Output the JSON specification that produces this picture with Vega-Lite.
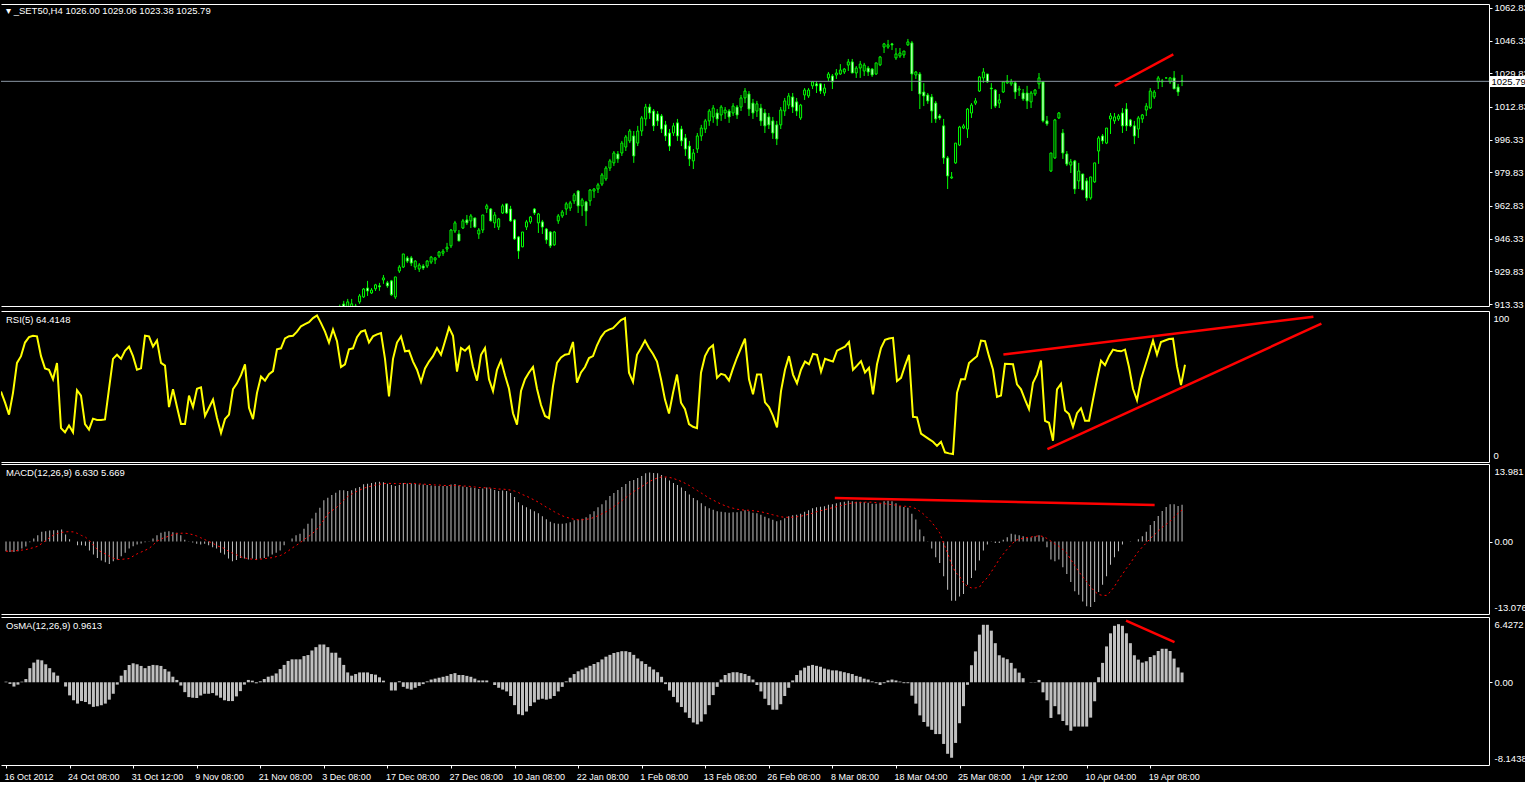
{
"$schema": "https://vega.github.io/schema/vega-lite/v6.json",
"background": "#000000",
"padding": {"left": 0, "top": 2, "right": 0, "bottom": 0},
"spacing": 0,
"config": {
  "font": "Liberation Sans",
  "view": {"stroke": "#ffffff", "strokeWidth": 1},
  "axis": {"grid": false, "domain": false, "labelColor": "#ffffff", "labelFont": "Liberation Sans", "labelFontSize": 9.5, "tickColor": "#ffffff", "tickSize": 3, "labelPadding": 2, "labelOverlap": false},
  "title": {"color": "#ffffff", "font": "Liberation Sans", "fontSize": 9.5, "fontWeight": "normal", "anchor": "start", "frame": "group", "baseline": "middle", "offset": -13}
},
"resolve": {"scale": {"x": "independent", "y": "independent"}},
"datasets": {
"candles": [
{"i":84,"o":909.3,"h":913.0,"l":907.0,"c":912.0},
{"i":85,"o":913.3,"h":914.9,"l":908.8,"c":910.8},
{"i":86,"o":911.8,"h":915.9,"l":909.8,"c":914.4},
{"i":87,"o":910.3,"h":915.9,"l":908.8,"c":913.4},
{"i":88,"o":910.8,"h":913.4,"l":909.8,"c":912.3},
{"i":89,"o":914.4,"h":918.4,"l":913.4,"c":917.4},
{"i":90,"o":916.9,"h":921.4,"l":916.4,"c":920.9},
{"i":91,"o":921.4,"h":925.0,"l":917.4,"c":919.9},
{"i":92,"o":918.9,"h":921.4,"l":918.4,"c":920.4},
{"i":93,"o":921.0,"h":923.5,"l":919.9,"c":923.0},
{"i":94,"o":922.5,"h":924.0,"l":920.0,"c":922.0},
{"i":95,"o":925.5,"h":928.0,"l":923.5,"c":926.5},
{"i":96,"o":924.0,"h":925.0,"l":921.5,"c":922.5},
{"i":97,"o":925.0,"h":925.5,"l":917.4,"c":918.0},
{"i":98,"o":916.9,"h":927.0,"l":915.9,"c":927.0},
{"i":99,"o":930.0,"h":933.0,"l":929.0,"c":932.0},
{"i":100,"o":932.0,"h":938.6,"l":931.5,"c":938.6},
{"i":101,"o":936.6,"h":937.6,"l":934.0,"c":935.0},
{"i":102,"o":936.6,"h":937.6,"l":932.5,"c":934.0},
{"i":103,"o":932.0,"h":935.5,"l":930.5,"c":935.0},
{"i":104,"o":931.0,"h":934.0,"l":929.5,"c":933.0},
{"i":105,"o":932.5,"h":933.5,"l":930.5,"c":931.5},
{"i":106,"o":932.5,"h":935.5,"l":931.5,"c":935.0},
{"i":107,"o":934.5,"h":937.6,"l":933.5,"c":937.0},
{"i":108,"o":935.6,"h":937.0,"l":933.5,"c":936.6},
{"i":109,"o":937.6,"h":940.1,"l":936.6,"c":939.6},
{"i":110,"o":939.0,"h":941.1,"l":937.6,"c":940.0},
{"i":111,"o":941.1,"h":944.2,"l":939.6,"c":942.0},
{"i":112,"o":942.7,"h":951.2,"l":941.6,"c":950.7},
{"i":113,"o":950.2,"h":955.3,"l":949.2,"c":954.3},
{"i":114,"o":948.7,"h":950.7,"l":945.0,"c":945.2},
{"i":115,"o":951.7,"h":956.3,"l":951.2,"c":955.3},
{"i":116,"o":955.8,"h":958.3,"l":953.2,"c":954.3},
{"i":117,"o":955.3,"h":958.8,"l":951.7,"c":957.8},
{"i":118,"o":956.8,"h":956.8,"l":951.7,"c":952.2},
{"i":119,"o":948.7,"h":951.7,"l":946.2,"c":950.7},
{"i":120,"o":950.7,"h":958.3,"l":949.2,"c":958.3},
{"i":121,"o":961.4,"h":963.9,"l":959.3,"c":962.9},
{"i":122,"o":961.3,"h":961.8,"l":955.0,"c":955.3},
{"i":123,"o":954.3,"h":959.8,"l":951.7,"c":958.3},
{"i":124,"o":952.2,"h":956.8,"l":950.7,"c":956.3},
{"i":125,"o":959.3,"h":963.9,"l":958.8,"c":962.9},
{"i":126,"o":963.9,"h":963.9,"l":958.8,"c":959.3},
{"i":127,"o":961.3,"h":962.9,"l":954.8,"c":955.3},
{"i":128,"o":955.8,"h":956.3,"l":945.7,"c":946.2},
{"i":129,"o":947.2,"h":947.7,"l":936.1,"c":940.1},
{"i":130,"o":942.2,"h":949.7,"l":942.0,"c":949.7},
{"i":131,"o":952.2,"h":955.8,"l":950.7,"c":954.8},
{"i":132,"o":954.8,"h":957.8,"l":953.8,"c":957.3},
{"i":133,"o":961.3,"h":961.8,"l":958.3,"c":959.3},
{"i":134,"o":954.3,"h":959.3,"l":949.2,"c":958.8},
{"i":135,"o":954.8,"h":955.8,"l":948.7,"c":952.2},
{"i":136,"o":951.2,"h":951.7,"l":943.7,"c":945.7},
{"i":137,"o":949.7,"h":950.2,"l":941.6,"c":942.7},
{"i":138,"o":943.2,"h":950.2,"l":942.7,"c":949.7},
{"i":139,"o":955.3,"h":958.8,"l":953.8,"c":957.8},
{"i":140,"o":957.8,"h":960.8,"l":956.8,"c":959.8},
{"i":141,"o":961.3,"h":964.9,"l":958.3,"c":963.9},
{"i":142,"o":961.8,"h":965.4,"l":960.3,"c":964.4},
{"i":143,"o":965.4,"h":969.4,"l":963.9,"c":968.4},
{"i":144,"o":970.4,"h":970.9,"l":959.3,"c":962.9},
{"i":145,"o":962.9,"h":966.9,"l":957.8,"c":965.9},
{"i":146,"o":964.9,"h":965.4,"l":952.7,"c":960.3},
{"i":147,"o":965.4,"h":971.4,"l":962.9,"c":970.9},
{"i":148,"o":970.4,"h":971.9,"l":966.9,"c":971.4},
{"i":149,"o":971.4,"h":974.5,"l":969.4,"c":973.5},
{"i":150,"o":973.9,"h":979.5,"l":972.9,"c":978.5},
{"i":151,"o":976.5,"h":983.0,"l":975.5,"c":982.0},
{"i":152,"o":982.0,"h":986.6,"l":980.5,"c":985.6},
{"i":153,"o":984.6,"h":990.6,"l":983.0,"c":989.6},
{"i":154,"o":989.1,"h":990.6,"l":984.6,"c":986.6},
{"i":155,"o":989.6,"h":995.7,"l":988.1,"c":994.6},
{"i":156,"o":992.6,"h":998.7,"l":990.6,"c":997.7},
{"i":157,"o":995.7,"h":1001.7,"l":994.6,"c":1000.7},
{"i":158,"o":998.2,"h":1000.7,"l":984.6,"c":988.1},
{"i":159,"o":994.6,"h":1003.3,"l":993.1,"c":1000.7},
{"i":160,"o":1000.7,"h":1008.3,"l":998.2,"c":1007.3},
{"i":161,"o":1006.8,"h":1014.4,"l":1003.3,"c":1012.8},
{"i":162,"o":1012.8,"h":1014.4,"l":1006.8,"c":1009.8},
{"i":163,"o":1010.8,"h":1011.8,"l":1000.7,"c":1003.3},
{"i":164,"o":1009.3,"h":1010.8,"l":1003.3,"c":1005.8},
{"i":165,"o":1008.3,"h":1009.3,"l":999.7,"c":1001.7},
{"i":166,"o":1003.8,"h":1005.8,"l":995.7,"c":998.2},
{"i":167,"o":999.7,"h":1001.7,"l":990.6,"c":993.1},
{"i":168,"o":999.7,"h":1004.8,"l":998.2,"c":1003.3},
{"i":169,"o":1004.8,"h":1006.8,"l":995.7,"c":998.2},
{"i":170,"o":1001.7,"h":1003.3,"l":993.1,"c":995.7},
{"i":171,"o":997.2,"h":999.2,"l":988.1,"c":991.6},
{"i":172,"o":993.1,"h":995.7,"l":983.0,"c":986.6},
{"i":173,"o":985.6,"h":991.6,"l":981.5,"c":989.6},
{"i":174,"o":991.6,"h":999.7,"l":989.6,"c":998.2},
{"i":175,"o":998.2,"h":1003.8,"l":995.7,"c":1002.2},
{"i":176,"o":1001.7,"h":1006.8,"l":999.7,"c":1005.8},
{"i":177,"o":1005.8,"h":1011.8,"l":1003.3,"c":1010.8},
{"i":178,"o":1007.8,"h":1013.8,"l":1004.8,"c":1012.3},
{"i":179,"o":1009.8,"h":1011.8,"l":1003.3,"c":1006.8},
{"i":180,"o":1008.8,"h":1013.8,"l":1005.8,"c":1012.8},
{"i":181,"o":1009.8,"h":1012.8,"l":1006.8,"c":1011.3},
{"i":182,"o":1010.8,"h":1011.8,"l":1004.8,"c":1007.8},
{"i":183,"o":1009.8,"h":1014.8,"l":1008.3,"c":1013.3},
{"i":184,"o":1012.8,"h":1013.8,"l":1006.8,"c":1008.8},
{"i":185,"o":1012.8,"h":1018.9,"l":1010.8,"c":1017.4},
{"i":186,"o":1017.4,"h":1022.4,"l":1014.8,"c":1020.9},
{"i":187,"o":1019.4,"h":1020.9,"l":1008.3,"c":1011.8},
{"i":188,"o":1014.8,"h":1016.9,"l":1006.8,"c":1009.8},
{"i":189,"o":1010.8,"h":1015.9,"l":1007.8,"c":1014.4},
{"i":190,"o":1012.3,"h":1014.4,"l":1003.3,"c":1005.8},
{"i":191,"o":1009.8,"h":1011.8,"l":999.7,"c":1003.3},
{"i":192,"o":1007.8,"h":1009.8,"l":1001.7,"c":1003.8},
{"i":193,"o":1005.8,"h":1007.8,"l":996.7,"c":999.7},
{"i":194,"o":1003.8,"h":1005.8,"l":993.6,"c":996.7},
{"i":195,"o":1003.8,"h":1012.8,"l":1001.7,"c":1011.3},
{"i":196,"o":1010.8,"h":1017.4,"l":1008.3,"c":1015.9},
{"i":197,"o":1013.8,"h":1019.9,"l":1011.8,"c":1018.4},
{"i":198,"o":1017.9,"h":1019.9,"l":1009.8,"c":1012.8},
{"i":199,"o":1015.4,"h":1017.4,"l":1008.3,"c":1010.8},
{"i":200,"o":1007.3,"h":1014.4,"l":1006.3,"c":1013.8},
{"i":201,"o":1018.9,"h":1022.4,"l":1016.4,"c":1021.4},
{"i":202,"o":1018.4,"h":1022.4,"l":1017.4,"c":1021.4},
{"i":203,"o":1023.5,"h":1025.9,"l":1021.9,"c":1025.5},
{"i":204,"o":1024.5,"h":1025.9,"l":1019.9,"c":1023.5},
{"i":205,"o":1024.5,"h":1024.9,"l":1019.4,"c":1020.9},
{"i":206,"o":1019.9,"h":1024.5,"l":1018.4,"c":1022.4},
{"i":207,"o":1027.5,"h":1030.5,"l":1025.9,"c":1029.5},
{"i":208,"o":1028.5,"h":1029.5,"l":1021.9,"c":1025.5},
{"i":209,"o":1029.0,"h":1032.0,"l":1027.0,"c":1030.0},
{"i":210,"o":1029.5,"h":1034.5,"l":1029.0,"c":1031.5},
{"i":211,"o":1030.5,"h":1032.5,"l":1029.5,"c":1032.0},
{"i":212,"o":1034.0,"h":1037.1,"l":1031.0,"c":1035.6},
{"i":213,"o":1035.6,"h":1037.1,"l":1030.0,"c":1030.0},
{"i":214,"o":1030.0,"h":1033.5,"l":1027.5,"c":1032.5},
{"i":215,"o":1032.5,"h":1036.1,"l":1027.5,"c":1034.5},
{"i":216,"o":1031.0,"h":1035.1,"l":1028.5,"c":1034.0},
{"i":217,"o":1032.5,"h":1033.5,"l":1028.5,"c":1030.5},
{"i":218,"o":1032.0,"h":1032.5,"l":1028.0,"c":1029.0},
{"i":219,"o":1029.5,"h":1035.1,"l":1029.0,"c":1035.1},
{"i":220,"o":1034.1,"h":1038.6,"l":1033.5,"c":1038.1},
{"i":221,"o":1043.1,"h":1045.2,"l":1040.1,"c":1044.7},
{"i":222,"o":1043.1,"h":1046.7,"l":1042.2,"c":1044.2},
{"i":223,"o":1044.7,"h":1045.2,"l":1041.6,"c":1044.2},
{"i":224,"o":1037.6,"h":1042.6,"l":1036.6,"c":1039.6},
{"i":225,"o":1038.6,"h":1042.6,"l":1037.6,"c":1040.1},
{"i":226,"o":1039.1,"h":1041.1,"l":1037.6,"c":1041.1},
{"i":227,"o":1044.2,"h":1047.2,"l":1043.7,"c":1045.7},
{"i":228,"o":1045.2,"h":1046.2,"l":1020.9,"c":1029.5},
{"i":229,"o":1029.0,"h":1031.0,"l":1027.0,"c":1030.5},
{"i":230,"o":1029.5,"h":1030.5,"l":1011.8,"c":1019.4},
{"i":231,"o":1020.4,"h":1024.9,"l":1013.3,"c":1018.4},
{"i":232,"o":1018.9,"h":1019.9,"l":1014.4,"c":1015.9},
{"i":233,"o":1017.9,"h":1019.4,"l":1004.8,"c":1010.8},
{"i":234,"o":1014.8,"h":1015.9,"l":1004.8,"c":1006.8},
{"i":235,"o":1008.3,"h":1009.3,"l":1006.3,"c":1007.3},
{"i":236,"o":1003.3,"h":1006.8,"l":984.1,"c":987.1},
{"i":237,"o":987.1,"h":988.1,"l":971.4,"c":978.0},
{"i":238,"o":977.0,"h":980.0,"l":976.5,"c":977.5},
{"i":239,"o":984.6,"h":994.6,"l":984.1,"c":994.6},
{"i":240,"o":993.6,"h":1003.3,"l":993.1,"c":1002.7},
{"i":241,"o":1002.2,"h":1004.3,"l":1001.7,"c":1003.3},
{"i":242,"o":1001.7,"h":1012.3,"l":997.2,"c":1011.8},
{"i":243,"o":1009.8,"h":1014.8,"l":1007.3,"c":1013.8},
{"i":244,"o":1014.8,"h":1017.4,"l":1013.8,"c":1015.9},
{"i":245,"o":1020.9,"h":1028.5,"l":1020.4,"c":1028.0},
{"i":246,"o":1027.5,"h":1032.5,"l":1025.0,"c":1030.5},
{"i":247,"o":1029.5,"h":1029.5,"l":1025.0,"c":1025.5},
{"i":248,"o":1022.4,"h":1024.9,"l":1011.8,"c":1022.0},
{"i":249,"o":1021.4,"h":1021.9,"l":1012.3,"c":1013.3},
{"i":250,"o":1014.8,"h":1019.4,"l":1012.3,"c":1016.4},
{"i":251,"o":1020.4,"h":1025.9,"l":1019.9,"c":1025.5},
{"i":252,"o":1025.0,"h":1029.0,"l":1024.5,"c":1025.9},
{"i":253,"o":1024.5,"h":1027.0,"l":1023.5,"c":1025.5},
{"i":254,"o":1025.0,"h":1025.9,"l":1016.9,"c":1020.4},
{"i":255,"o":1021.4,"h":1023.5,"l":1018.4,"c":1022.0},
{"i":256,"o":1019.9,"h":1021.9,"l":1015.9,"c":1016.9},
{"i":257,"o":1019.9,"h":1023.5,"l":1011.8,"c":1015.9},
{"i":258,"o":1015.4,"h":1020.9,"l":1012.3,"c":1019.9},
{"i":259,"o":1019.4,"h":1021.9,"l":1018.4,"c":1021.4},
{"i":260,"o":1024.5,"h":1030.0,"l":1022.0,"c":1027.5},
{"i":261,"o":1025.5,"h":1025.9,"l":1005.0,"c":1005.8},
{"i":262,"o":1005.8,"h":1008.3,"l":1003.3,"c":1004.3},
{"i":263,"o":980.5,"h":989.6,"l":980.0,"c":989.6},
{"i":264,"o":987.1,"h":1006.8,"l":986.6,"c":1006.3},
{"i":265,"o":1007.3,"h":1010.3,"l":1006.8,"c":1009.8},
{"i":266,"o":999.7,"h":1001.7,"l":986.6,"c":989.6},
{"i":267,"o":989.1,"h":990.6,"l":983.0,"c":984.0},
{"i":268,"o":983.5,"h":986.6,"l":979.5,"c":985.1},
{"i":269,"o":985.6,"h":986.1,"l":968.9,"c":971.4},
{"i":270,"o":975.5,"h":984.6,"l":971.4,"c":980.5},
{"i":271,"o":979.0,"h":979.0,"l":970.9,"c":971.0},
{"i":272,"o":975.5,"h":977.0,"l":965.4,"c":966.9},
{"i":273,"o":966.9,"h":977.5,"l":966.0,"c":977.5},
{"i":274,"o":975.0,"h":984.6,"l":974.5,"c":984.6},
{"i":275,"o":990.6,"h":998.2,"l":984.1,"c":997.2},
{"i":276,"o":998.2,"h":999.2,"l":994.1,"c":995.7},
{"i":277,"o":994.6,"h":1002.2,"l":994.1,"c":1002.2},
{"i":278,"o":1006.8,"h":1009.8,"l":999.2,"c":1008.3},
{"i":279,"o":1005.8,"h":1009.8,"l":1004.3,"c":1007.8},
{"i":280,"o":1006.8,"h":1009.3,"l":1005.8,"c":1008.3},
{"i":281,"o":1009.8,"h":1012.3,"l":999.7,"c":1003.3},
{"i":282,"o":1011.8,"h":1014.8,"l":1000.7,"c":1003.3},
{"i":283,"o":1006.3,"h":1006.8,"l":1002.7,"c":1003.3},
{"i":284,"o":1003.3,"h":1005.8,"l":994.1,"c":998.2},
{"i":285,"o":1001.7,"h":1008.3,"l":997.2,"c":1007.3},
{"i":286,"o":1006.8,"h":1009.3,"l":1004.8,"c":1008.8},
{"i":287,"o":1011.3,"h":1014.8,"l":1008.3,"c":1013.3},
{"i":288,"o":1012.3,"h":1022.4,"l":1011.8,"c":1020.9},
{"i":289,"o":1017.9,"h":1021.4,"l":1016.9,"c":1020.4},
{"i":290,"o":1025.5,"h":1028.5,"l":1021.9,"c":1027.5},
{"i":291,"o":1025.5,"h":1027.0,"l":1022.9,"c":1026.0},
{"i":292,"o":1027.5,"h":1027.7,"l":1027.3,"c":1027.5},
{"i":293,"o":1025.5,"h":1028.0,"l":1024.5,"c":1027.5},
{"i":294,"o":1027.5,"h":1031.0,"l":1021.9,"c":1022.0},
{"i":295,"o":1022.9,"h":1024.5,"l":1018.4,"c":1020.4},
{"i":296,"o":1026.0,"h":1029.06,"l":1023.38,"c":1025.79}
],
"ind": [
{"i":0,"r":46.7,"m":-1.75,"s":-1.75,"o":0.06},
{"i":1,"r":39.5,"m":-1.87,"s":-1.73,"o":-0.16},
{"i":2,"r":31.4,"m":-1.87,"s":-1.68,"o":-0.42},
{"i":3,"r":45.8,"m":-1.75,"s":-1.64,"o":-0.23},
{"i":4,"r":65.6,"m":-1.27,"s":-1.55,"o":0.06},
{"i":5,"r":70.1,"m":-0.91,"s":-1.46,"o":0.32},
{"i":6,"r":79.1,"m":-0.12,"s":-1.27,"o":1.39},
{"i":7,"r":82.7,"m":0.55,"s":-1.09,"o":1.94},
{"i":8,"r":83.6,"m":1.15,"s":-0.85,"o":2.23},
{"i":9,"r":83.2,"m":1.75,"s":-0.36,"o":2.16},
{"i":10,"r":70.1,"m":1.87,"s":0.18,"o":1.77},
{"i":11,"r":62.0,"m":1.99,"s":0.73,"o":1.39},
{"i":12,"r":61.1,"m":2.05,"s":1.18,"o":0.97},
{"i":13,"r":54.8,"m":2.05,"s":1.46,"o":0.65},
{"i":14,"r":65.6,"m":2.17,"s":1.64,"o":0.0},
{"i":15,"r":22.4,"m":1.26,"s":1.75,"o":-0.42},
{"i":16,"r":19.7,"m":0.42,"s":1.77,"o":-1.29},
{"i":17,"r":24.2,"m":0.02,"s":1.73,"o":-1.77},
{"i":18,"r":19.7,"m":-0.66,"s":1.46,"o":-2.1},
{"i":19,"r":47.6,"m":-0.66,"s":1.09,"o":-1.85},
{"i":20,"r":44.0,"m":-0.78,"s":0.78,"o":-1.94},
{"i":21,"r":25.1,"m":-1.63,"s":0.18,"o":-2.16},
{"i":22,"r":21.5,"m":-2.36,"s":-0.64,"o":-2.42},
{"i":23,"r":28.7,"m":-2.96,"s":-1.46,"o":-2.36},
{"i":24,"r":27.8,"m":-3.44,"s":-1.91,"o":-2.26},
{"i":25,"r":27.8,"m":-3.74,"s":-2.23,"o":-2.1},
{"i":26,"r":28.2,"m":-4.04,"s":-2.64,"o":-1.71},
{"i":27,"r":48.5,"m":-3.56,"s":-3.0,"o":-1.13},
{"i":28,"r":68.3,"m":-3.26,"s":-3.26,"o":-0.23},
{"i":29,"r":71.0,"m":-2.66,"s":-3.23,"o":0.65},
{"i":30,"r":68.3,"m":-2.05,"s":-3.14,"o":1.2},
{"i":31,"r":73.7,"m":-1.26,"s":-3.08,"o":1.71},
{"i":32,"r":76.4,"m":-0.85,"s":-2.64,"o":1.87},
{"i":33,"r":70.1,"m":-0.55,"s":-2.23,"o":1.77},
{"i":34,"r":61.1,"m":-0.36,"s":-1.91,"o":1.61},
{"i":35,"r":62.0,"m":-0.12,"s":-1.59,"o":1.39},
{"i":36,"r":83.6,"m":0.06,"s":-1.26,"o":1.61},
{"i":37,"r":83.2,"m":0.55,"s":-0.64,"o":1.71},
{"i":38,"r":76.4,"m":1.15,"s":0.06,"o":1.68},
{"i":39,"r":80.5,"m":1.57,"s":0.46,"o":1.61},
{"i":40,"r":65.6,"m":1.75,"s":0.73,"o":1.3},
{"i":41,"r":63.8,"m":1.87,"s":0.96,"o":1.06},
{"i":42,"r":36.4,"m":1.69,"s":1.23,"o":0.55},
{"i":43,"r":48.2,"m":1.57,"s":1.45,"o":0.23},
{"i":44,"r":36.4,"m":1.15,"s":1.49,"o":-0.32},
{"i":45,"r":25.1,"m":0.3,"s":1.51,"o":-0.97},
{"i":46,"r":25.1,"m":0.06,"s":1.41,"o":-1.46},
{"i":47,"r":44.0,"m":-0.18,"s":1.23,"o":-1.52},
{"i":48,"r":36.4,"m":-0.42,"s":1.0,"o":-1.55},
{"i":49,"r":48.5,"m":-0.55,"s":0.68,"o":-1.3},
{"i":50,"r":49.4,"m":-0.42,"s":0.36,"o":-1.13},
{"i":51,"r":30.5,"m":-0.66,"s":0.0,"o":-1.13},
{"i":52,"r":35.9,"m":-1.03,"s":-0.27,"o":-1.06},
{"i":53,"r":41.3,"m":-1.26,"s":-0.73,"o":-1.3},
{"i":54,"r":29.1,"m":-2.05,"s":-1.0,"o":-1.52},
{"i":55,"r":19.2,"m":-2.36,"s":-1.26,"o":-1.77},
{"i":56,"r":28.4,"m":-3.08,"s":-1.73,"o":-1.85},
{"i":57,"r":31.4,"m":-3.56,"s":-2.09,"o":-1.85},
{"i":58,"r":48.2,"m":-3.32,"s":-2.37,"o":-1.39},
{"i":59,"r":52.1,"m":-2.96,"s":-2.73,"o":-0.87},
{"i":60,"r":57.5,"m":-3.08,"s":-2.96,"o":-0.23},
{"i":61,"r":64.7,"m":-3.26,"s":-3.09,"o":0.23},
{"i":62,"r":35.9,"m":-3.08,"s":-3.19,"o":0.16},
{"i":63,"r":28.4,"m":-3.32,"s":-3.26,"o":-0.1},
{"i":64,"r":45.8,"m":-3.08,"s":-3.19,"o":0.1},
{"i":65,"r":56.6,"m":-2.96,"s":-3.09,"o":0.32},
{"i":66,"r":53.9,"m":-2.71,"s":-3.0,"o":0.55},
{"i":67,"r":58.1,"m":-2.36,"s":-2.91,"o":0.65},
{"i":68,"r":60.2,"m":-2.05,"s":-2.73,"o":0.87},
{"i":69,"r":74.6,"m":-1.63,"s":-2.54,"o":1.3},
{"i":70,"r":75.3,"m":-0.66,"s":-2.18,"o":1.71},
{"i":71,"r":81.8,"m":0.02,"s":-1.73,"o":2.1},
{"i":72,"r":83.3,"m":0.55,"s":-1.18,"o":2.26},
{"i":73,"r":83.6,"m":1.15,"s":-0.73,"o":2.26},
{"i":74,"r":86.3,"m":1.39,"s":-0.25,"o":2.26},
{"i":75,"r":89.9,"m":2.29,"s":0.36,"o":2.58},
{"i":76,"r":91.3,"m":3.19,"s":0.82,"o":2.68},
{"i":77,"r":92.6,"m":4.17,"s":1.37,"o":3.13},
{"i":78,"r":95.3,"m":5.19,"s":2.0,"o":3.46},
{"i":79,"r":97.1,"m":6.1,"s":2.91,"o":3.72},
{"i":80,"r":92.0,"m":7.43,"s":3.91,"o":3.72},
{"i":81,"r":86.3,"m":7.91,"s":5.0,"o":3.46},
{"i":82,"r":79.1,"m":8.39,"s":5.55,"o":2.91},
{"i":83,"r":87.8,"m":8.81,"s":6.01,"o":2.91},
{"i":84,"r":80.0,"m":9.24,"s":6.73,"o":2.42},
{"i":85,"r":62.9,"m":9.24,"s":7.46,"o":1.71},
{"i":86,"r":64.7,"m":9.1,"s":8.1,"o":0.97},
{"i":87,"r":74.6,"m":9.24,"s":8.55,"o":0.65},
{"i":88,"r":75.3,"m":9.59,"s":8.96,"o":0.81},
{"i":89,"r":82.7,"m":9.84,"s":9.28,"o":0.97},
{"i":90,"r":86.3,"m":10.32,"s":9.6,"o":0.97},
{"i":91,"r":87.2,"m":10.44,"s":9.83,"o":0.97},
{"i":92,"r":79.1,"m":10.56,"s":10.01,"o":0.81},
{"i":93,"r":83.2,"m":10.68,"s":10.19,"o":0.75},
{"i":94,"r":84.5,"m":10.8,"s":10.33,"o":0.49},
{"i":95,"r":85.4,"m":10.68,"s":10.42,"o":0.16},
{"i":96,"r":68.3,"m":10.44,"s":10.5,"o":0.0},
{"i":97,"r":43.5,"m":10.2,"s":10.47,"o":-0.81},
{"i":98,"r":68.3,"m":10.01,"s":10.45,"o":-0.81},
{"i":99,"r":79.1,"m":10.2,"s":10.44,"o":0.1},
{"i":100,"r":83.2,"m":10.56,"s":10.47,"o":-0.45},
{"i":101,"r":73.3,"m":10.47,"s":10.47,"o":-0.63},
{"i":102,"r":73.7,"m":10.47,"s":10.47,"o":-0.72},
{"i":103,"r":66.5,"m":10.37,"s":10.47,"o":-0.54},
{"i":104,"r":61.1,"m":10.28,"s":10.37,"o":-0.36},
{"i":105,"r":53.0,"m":10.28,"s":10.37,"o":-0.18},
{"i":106,"r":62.0,"m":10.19,"s":10.28,"o":0.09},
{"i":107,"r":66.5,"m":10.1,"s":10.28,"o":0.27},
{"i":108,"r":70.1,"m":10.0,"s":10.19,"o":0.36},
{"i":109,"r":75.5,"m":10.0,"s":10.19,"o":0.45},
{"i":110,"r":71.0,"m":10.0,"s":10.1,"o":0.54},
{"i":111,"r":80.0,"m":10.0,"s":10.1,"o":0.63},
{"i":112,"r":89.0,"m":10.28,"s":10.1,"o":0.81},
{"i":113,"r":83.6,"m":10.37,"s":10.1,"o":0.9},
{"i":114,"r":59.8,"m":10.1,"s":10.1,"o":0.72},
{"i":115,"r":75.5,"m":9.92,"s":10.0,"o":0.72},
{"i":116,"r":73.7,"m":9.83,"s":10.0,"o":0.63},
{"i":117,"r":76.4,"m":9.74,"s":9.92,"o":0.54},
{"i":118,"r":62.9,"m":9.65,"s":9.83,"o":0.36},
{"i":119,"r":53.9,"m":9.46,"s":9.74,"o":0.18},
{"i":120,"r":71.0,"m":9.56,"s":9.74,"o":0.18},
{"i":121,"r":75.5,"m":9.74,"s":9.65,"o":0.18},
{"i":122,"r":54.8,"m":9.56,"s":9.65,"o":0.0},
{"i":123,"r":47.0,"m":9.28,"s":9.56,"o":-0.27},
{"i":124,"r":61.1,"m":9.1,"s":9.46,"o":-0.54},
{"i":125,"r":67.4,"m":9.19,"s":9.46,"o":-0.72},
{"i":126,"r":57.5,"m":9.1,"s":9.37,"o":-0.9},
{"i":127,"r":48.5,"m":8.74,"s":9.28,"o":-1.35},
{"i":128,"r":32.3,"m":8.01,"s":9.1,"o":-2.25},
{"i":129,"r":24.7,"m":7.1,"s":8.83,"o":-3.15},
{"i":130,"r":47.0,"m":6.55,"s":8.46,"o":-3.24},
{"i":131,"r":54.8,"m":6.19,"s":8.19,"o":-2.88},
{"i":132,"r":59.3,"m":5.82,"s":7.83,"o":-2.34},
{"i":133,"r":62.9,"m":5.46,"s":7.46,"o":-1.98},
{"i":134,"r":48.5,"m":5.1,"s":7.1,"o":-1.71},
{"i":135,"r":37.7,"m":4.55,"s":6.64,"o":-1.62},
{"i":136,"r":30.5,"m":4.0,"s":6.19,"o":-1.71},
{"i":137,"r":29.0,"m":3.55,"s":5.82,"o":-1.62},
{"i":138,"r":50.3,"m":3.28,"s":5.37,"o":-1.35},
{"i":139,"r":65.6,"m":3.19,"s":5.0,"o":-0.9},
{"i":140,"r":69.2,"m":3.19,"s":4.64,"o":-0.45},
{"i":141,"r":71.0,"m":3.28,"s":4.37,"o":0.09},
{"i":142,"r":71.6,"m":3.46,"s":4.19,"o":0.45},
{"i":143,"r":79.5,"m":3.82,"s":4.0,"o":0.81},
{"i":144,"r":52.5,"m":3.91,"s":3.91,"o":1.08},
{"i":145,"r":59.3,"m":4.1,"s":3.91,"o":1.26},
{"i":146,"r":62.9,"m":4.37,"s":4.0,"o":1.44},
{"i":147,"r":68.8,"m":4.91,"s":4.1,"o":1.62},
{"i":148,"r":70.1,"m":5.46,"s":4.37,"o":1.8},
{"i":149,"r":77.3,"m":6.19,"s":4.64,"o":1.98},
{"i":150,"r":82.7,"m":6.73,"s":5.0,"o":2.25},
{"i":151,"r":86.3,"m":7.46,"s":5.37,"o":2.52},
{"i":152,"r":87.7,"m":8.19,"s":5.82,"o":2.7},
{"i":153,"r":88.6,"m":8.74,"s":6.28,"o":2.88},
{"i":154,"r":91.3,"m":9.28,"s":6.83,"o":2.97},
{"i":155,"r":94.0,"m":9.83,"s":7.37,"o":3.06},
{"i":156,"r":95.3,"m":10.37,"s":7.92,"o":3.06},
{"i":157,"r":59.1,"m":10.92,"s":8.46,"o":2.97},
{"i":158,"r":53.0,"m":11.1,"s":9.01,"o":2.7},
{"i":159,"r":71.0,"m":11.47,"s":9.46,"o":2.34},
{"i":160,"r":75.5,"m":11.83,"s":9.92,"o":2.07},
{"i":161,"r":80.4,"m":12.29,"s":10.37,"o":1.8},
{"i":162,"r":75.5,"m":12.47,"s":10.83,"o":1.53},
{"i":163,"r":71.5,"m":12.38,"s":11.19,"o":1.26},
{"i":164,"r":66.5,"m":12.29,"s":11.47,"o":0.99},
{"i":165,"r":54.8,"m":12.01,"s":11.65,"o":0.54},
{"i":166,"r":41.3,"m":11.56,"s":11.65,"o":-0.18},
{"i":167,"r":32.1,"m":11.01,"s":11.56,"o":-0.81},
{"i":168,"r":45.8,"m":10.56,"s":11.38,"o":-1.44},
{"i":169,"r":57.9,"m":10.19,"s":11.1,"o":-1.98},
{"i":170,"r":39.3,"m":9.74,"s":10.83,"o":-2.43},
{"i":171,"r":35.0,"m":9.1,"s":10.47,"o":-2.97},
{"i":172,"r":25.1,"m":8.46,"s":10.1,"o":-3.51},
{"i":173,"r":23.3,"m":7.83,"s":9.65,"o":-3.96},
{"i":174,"r":22.4,"m":7.46,"s":9.19,"o":-4.14},
{"i":175,"r":59.1,"m":6.92,"s":8.74,"o":-3.87},
{"i":176,"r":70.1,"m":6.37,"s":8.28,"o":-3.15},
{"i":177,"r":75.1,"m":6.01,"s":7.83,"o":-2.25},
{"i":178,"r":77.3,"m":5.73,"s":7.46,"o":-1.26},
{"i":179,"r":55.7,"m":5.46,"s":7.1,"o":-0.45},
{"i":180,"r":58.4,"m":5.37,"s":6.73,"o":0.27},
{"i":181,"r":57.5,"m":5.28,"s":6.46,"o":0.72},
{"i":182,"r":53.9,"m":5.19,"s":6.19,"o":0.9},
{"i":183,"r":62.0,"m":5.28,"s":6.01,"o":0.99},
{"i":184,"r":69.2,"m":5.28,"s":5.82,"o":0.99},
{"i":185,"r":75.5,"m":5.46,"s":5.73,"o":0.9},
{"i":186,"r":81.7,"m":5.64,"s":5.64,"o":0.81},
{"i":187,"r":54.8,"m":5.46,"s":5.64,"o":0.63},
{"i":188,"r":44.8,"m":5.19,"s":5.55,"o":0.27},
{"i":189,"r":57.9,"m":5.1,"s":5.46,"o":-0.27},
{"i":190,"r":57.9,"m":4.82,"s":5.37,"o":-0.9},
{"i":191,"r":39.5,"m":4.46,"s":5.19,"o":-1.62},
{"i":192,"r":36.4,"m":4.19,"s":5.0,"o":-2.25},
{"i":193,"r":30.5,"m":3.91,"s":4.82,"o":-2.7},
{"i":194,"r":22.9,"m":3.64,"s":4.64,"o":-2.7},
{"i":195,"r":47.0,"m":3.82,"s":4.46,"o":-2.16},
{"i":196,"r":61.1,"m":4.19,"s":4.37,"o":-1.35},
{"i":197,"r":70.1,"m":4.55,"s":4.37,"o":-0.54},
{"i":198,"r":57.9,"m":4.73,"s":4.37,"o":0.18},
{"i":199,"r":52.1,"m":4.82,"s":4.46,"o":0.72},
{"i":200,"r":61.1,"m":5.0,"s":4.55,"o":1.17},
{"i":201,"r":66.5,"m":5.37,"s":4.73,"o":1.44},
{"i":202,"r":64.7,"m":5.64,"s":4.91,"o":1.62},
{"i":203,"r":71.6,"m":6.01,"s":5.1,"o":1.71},
{"i":204,"r":71.0,"m":6.19,"s":5.37,"o":1.62},
{"i":205,"r":59.8,"m":6.28,"s":5.55,"o":1.53},
{"i":206,"r":68.3,"m":6.37,"s":5.73,"o":1.35},
{"i":207,"r":67.4,"m":6.64,"s":5.92,"o":1.26},
{"i":208,"r":66.5,"m":6.73,"s":6.1,"o":1.17},
{"i":209,"r":73.7,"m":6.92,"s":6.28,"o":1.17},
{"i":210,"r":75.1,"m":7.1,"s":6.46,"o":1.08},
{"i":211,"r":76.4,"m":7.19,"s":6.64,"o":0.99},
{"i":212,"r":79.5,"m":7.37,"s":6.83,"o":0.9},
{"i":213,"r":61.1,"m":7.28,"s":6.92,"o":0.81},
{"i":214,"r":63.8,"m":7.19,"s":7.01,"o":0.63},
{"i":215,"r":66.8,"m":7.19,"s":7.01,"o":0.54},
{"i":216,"r":59.3,"m":7.1,"s":7.1,"o":0.36},
{"i":217,"r":62.4,"m":7.01,"s":7.1,"o":0.27},
{"i":218,"r":44.8,"m":6.83,"s":7.1,"o":0.09},
{"i":219,"r":64.7,"m":6.83,"s":7.01,"o":-0.09},
{"i":220,"r":75.5,"m":6.92,"s":6.92,"o":-0.27},
{"i":221,"r":80.9,"m":7.28,"s":6.83,"o":-0.09},
{"i":222,"r":81.8,"m":7.37,"s":6.73,"o":0.18},
{"i":223,"r":82.2,"m":7.28,"s":6.64,"o":0.27},
{"i":224,"r":53.6,"m":6.92,"s":6.55,"o":0.18},
{"i":225,"r":55.7,"m":6.4,"s":6.4,"o":0.07},
{"i":226,"r":63.8,"m":6.22,"s":6.37,"o":-0.09},
{"i":227,"r":71.0,"m":6.1,"s":6.32,"o":-0.09},
{"i":228,"r":29.9,"m":5.0,"s":6.22,"o":-1.32},
{"i":229,"r":29.6,"m":3.99,"s":5.92,"o":-2.1},
{"i":230,"r":18.8,"m":2.17,"s":5.46,"o":-3.26},
{"i":231,"r":17.0,"m":0.96,"s":4.91,"o":-3.91},
{"i":232,"r":15.2,"m":0.06,"s":4.19,"o":-4.36},
{"i":233,"r":13.4,"m":-1.26,"s":3.46,"o":-4.68},
{"i":234,"r":10.7,"m":-2.84,"s":2.55,"o":-5.1},
{"i":235,"r":13.4,"m":-3.86,"s":1.57,"o":-5.1},
{"i":236,"r":6.4,"m":-6.28,"s":-0.36,"o":-6.07},
{"i":237,"r":5.7,"m":-8.69,"s":-2.09,"o":-7.04},
{"i":238,"r":5.3,"m":-10.68,"s":-4.1,"o":-7.43},
{"i":239,"r":45.8,"m":-10.68,"s":-5.55,"o":-5.97},
{"i":240,"r":54.8,"m":-9.9,"s":-6.28,"o":-4.03},
{"i":241,"r":54.8,"m":-9.47,"s":-7.46,"o":-2.35},
{"i":242,"r":65.6,"m":-7.78,"s":-8.1,"o":-0.25},
{"i":243,"r":67.9,"m":-6.58,"s":-8.37,"o":1.68},
{"i":244,"r":70.1,"m":-5.25,"s":-8.37,"o":3.04},
{"i":245,"r":80.4,"m":-3.44,"s":-8.26,"o":4.69},
{"i":246,"r":80.0,"m":-1.63,"s":-7.19,"o":5.66},
{"i":247,"r":70.1,"m":-0.55,"s":-6.55,"o":5.66},
{"i":248,"r":61.1,"m":-0.05,"s":-5.46,"o":5.08},
{"i":249,"r":43.1,"m":-0.25,"s":-4.37,"o":3.85},
{"i":250,"r":44.0,"m":-0.25,"s":-3.19,"o":2.66},
{"i":251,"r":65.0,"m":0.3,"s":-2.28,"o":2.43},
{"i":252,"r":64.9,"m":0.78,"s":-1.37,"o":2.27},
{"i":253,"r":64.7,"m":1.39,"s":-0.64,"o":1.91},
{"i":254,"r":51.4,"m":1.26,"s":0.18,"o":1.36},
{"i":255,"r":48.1,"m":1.15,"s":0.41,"o":0.95},
{"i":256,"r":41.3,"m":0.96,"s":0.59,"o":0.4},
{"i":257,"r":35.0,"m":0.66,"s":0.73,"o":0.0},
{"i":258,"r":52.5,"m":0.78,"s":0.82,"o":-0.03},
{"i":259,"r":57.9,"m":0.96,"s":0.9,"o":-0.03},
{"i":260,"r":67.2,"m":1.15,"s":1.05,"o":0.23},
{"i":261,"r":27.3,"m":0.78,"s":0.91,"o":-0.99},
{"i":262,"r":26.0,"m":-1.03,"s":0.55,"o":-1.77},
{"i":263,"r":14.1,"m":-3.26,"s":0.06,"o":-3.51},
{"i":264,"r":48.1,"m":-3.56,"s":-0.46,"o":-2.35},
{"i":265,"r":51.8,"m":-3.26,"s":-0.85,"o":-3.16},
{"i":266,"r":34.1,"m":-4.65,"s":-1.46,"o":-3.81},
{"i":267,"r":31.7,"m":-5.85,"s":-2.09,"o":-4.23},
{"i":268,"r":23.3,"m":-7.3,"s":-3.28,"o":-4.77},
{"i":269,"r":32.3,"m":-8.99,"s":-4.28,"o":-4.36},
{"i":270,"r":35.6,"m":-9.59,"s":-5.46,"o":-4.36},
{"i":271,"r":27.3,"m":-10.8,"s":-6.37,"o":-4.36},
{"i":272,"r":27.3,"m":-11.7,"s":-7.28,"o":-4.36},
{"i":273,"r":41.3,"m":-11.83,"s":-8.19,"o":-3.48},
{"i":274,"r":54.8,"m":-10.92,"s":-9.01,"o":-1.87},
{"i":275,"r":67.2,"m":-9.11,"s":-9.56,"o":0.5},
{"i":276,"r":64.2,"m":-7.78,"s":-9.72,"o":1.91},
{"i":277,"r":70.1,"m":-6.28,"s":-9.72,"o":3.53},
{"i":278,"r":74.4,"m":-4.17,"s":-9.05,"o":4.82},
{"i":279,"r":73.7,"m":-2.84,"s":-8.1,"o":5.56},
{"i":280,"r":73.3,"m":-1.75,"s":-6.92,"o":5.72},
{"i":281,"r":74.4,"m":-0.55,"s":-5.92,"o":5.56},
{"i":282,"r":62.9,"m":0.02,"s":-4.82,"o":4.82},
{"i":283,"r":48.5,"m":0.06,"s":-3.91,"o":3.85},
{"i":284,"r":40.9,"m":0.02,"s":-2.82,"o":2.66},
{"i":285,"r":54.8,"m":0.42,"s":-1.82,"o":2.23},
{"i":286,"r":63.4,"m":0.96,"s":-1.0,"o":1.94},
{"i":287,"r":71.9,"m":1.75,"s":-0.27,"o":2.07},
{"i":288,"r":80.4,"m":2.96,"s":0.55,"o":2.49},
{"i":289,"r":71.0,"m":3.69,"s":1.18,"o":2.66},
{"i":290,"r":79.5,"m":4.59,"s":1.87,"o":3.08},
{"i":291,"r":80.5,"m":5.49,"s":2.55,"o":3.3},
{"i":292,"r":81.4,"m":6.22,"s":3.09,"o":3.3},
{"i":293,"r":81.7,"m":6.7,"s":3.64,"o":3.08},
{"i":294,"r":63.4,"m":6.7,"s":4.46,"o":2.33},
{"i":295,"r":50.9,"m":6.4,"s":5.1,"o":1.46},
{"i":296,"r":64.41,"m":6.63,"s":5.669,"o":0.9613}
],
"lines": [
{"g":"price","i":279.05,"v":1023.44},{"g":"price","i":293.8,"v":1039.45},
{"g":"rsi1","i":250.6,"v":71.2},{"g":"rsi1","i":328.1,"v":96.2},
{"g":"rsi2","i":261.6,"v":8.6},{"g":"rsi2","i":330.1,"v":91.6},
{"g":"macd","i":208.6,"v":7.84},{"g":"macd","i":289.1,"v":6.58},
{"g":"osma","i":281.9,"v":6.08},{"g":"osma","i":294.1,"v":3.96}
],
"last": [{"v":1025.79}]
},
"vconcat": [
{
 "width": 1488, "height": 302,
 "view": {"stroke": "#ffffff", "strokeDash": [3278, 302]},
 "title": {"text": "▾ _SET50,H4  1026.00 1029.06 1023.38 1025.79", "dx": 5},
 "layer": [
  {"data": {"name": "candles"},
   "mark": {"type": "rule", "color": "#00ff00", "strokeWidth": 1, "clip": true},
   "encoding": {
     "x": {"field": "i", "type": "quantitative", "scale": {"domain": [0, 372], "nice": false, "zero": false}, "axis": null},
     "y": {"field": "l", "type": "quantitative", "scale": {"domain": [912.32, 1064.85], "nice": false, "zero": false},
           "axis": {"orient": "right", "title": null, "format": ".2f", "labelOverlap": false,
                    "values": [913.33, 929.83, 946.33, 962.83, 979.83, 996.33, 1012.83, 1029.83, 1046.33, 1062.83, 1025.79],
                    "tickSize": {"condition": {"test": "datum.value === 1025.79", "value": 37}, "value": 3},
                    "tickWidth": {"condition": {"test": "datum.value === 1025.79", "value": 11}, "value": 1},
                    "labelPadding": {"condition": {"test": "datum.value === 1025.79", "value": -35}, "value": 2},
                    "labelColor": {"condition": {"test": "datum.value === 1025.79", "value": "#000000"}, "value": "#ffffff"}}},
     "y2": {"field": "h"}
   }},
  {"data": {"name": "candles"},
   "mark": {"type": "bar", "size": 2, "stroke": "#00ff00", "strokeWidth": 1, "clip": true},
   "encoding": {
     "x": {"field": "i", "type": "quantitative", "scale": {"domain": [0, 372], "nice": false, "zero": false}, "axis": null},
     "y": {"field": "o", "type": "quantitative", "scale": {"domain": [912.32, 1064.85], "nice": false, "zero": false},
           "axis": {"orient": "right", "title": null, "format": ".2f", "labelOverlap": false,
                    "values": [913.33, 929.83, 946.33, 962.83, 979.83, 996.33, 1012.83, 1029.83, 1046.33, 1062.83, 1025.79],
                    "tickSize": {"condition": {"test": "datum.value === 1025.79", "value": 37}, "value": 3},
                    "tickWidth": {"condition": {"test": "datum.value === 1025.79", "value": 11}, "value": 1},
                    "labelPadding": {"condition": {"test": "datum.value === 1025.79", "value": -35}, "value": 2},
                    "labelColor": {"condition": {"test": "datum.value === 1025.79", "value": "#000000"}, "value": "#ffffff"}}},
     "y2": {"field": "c"},
     "fill": {"condition": {"test": "datum.c >= datum.o", "value": "#000000"}, "value": "#ffffff"}
   }},
  {"data": {"name": "last"},
   "mark": {"type": "rule", "color": "#8a96a3", "strokeWidth": 1},
   "encoding": {
     "y": {"field": "v", "type": "quantitative", "scale": {"domain": [912.32, 1064.85], "nice": false, "zero": false},
           "axis": {"orient": "right", "title": null, "format": ".2f", "labelOverlap": false,
                    "values": [913.33, 929.83, 946.33, 962.83, 979.83, 996.33, 1012.83, 1029.83, 1046.33, 1062.83, 1025.79],
                    "tickSize": {"condition": {"test": "datum.value === 1025.79", "value": 37}, "value": 3},
                    "tickWidth": {"condition": {"test": "datum.value === 1025.79", "value": 11}, "value": 1},
                    "labelPadding": {"condition": {"test": "datum.value === 1025.79", "value": -35}, "value": 2},
                    "labelColor": {"condition": {"test": "datum.value === 1025.79", "value": "#000000"}, "value": "#ffffff"}}}
   }},
  {"data": {"name": "lines"},
   "transform": [{"filter": "datum.g === 'price'"}],
   "mark": {"type": "line", "color": "#ff0000", "strokeWidth": 2.5},
   "encoding": {
     "x": {"field": "i", "type": "quantitative", "scale": {"domain": [0, 372], "nice": false, "zero": false}, "axis": null},
     "y": {"field": "v", "type": "quantitative", "scale": {"domain": [912.32, 1064.85], "nice": false, "zero": false},
           "axis": {"orient": "right", "title": null, "format": ".2f", "labelOverlap": false,
                    "values": [913.33, 929.83, 946.33, 962.83, 979.83, 996.33, 1012.83, 1029.83, 1046.33, 1062.83, 1025.79],
                    "tickSize": {"condition": {"test": "datum.value === 1025.79", "value": 37}, "value": 3},
                    "tickWidth": {"condition": {"test": "datum.value === 1025.79", "value": 11}, "value": 1},
                    "labelPadding": {"condition": {"test": "datum.value === 1025.79", "value": -35}, "value": 2},
                    "labelColor": {"condition": {"test": "datum.value === 1025.79", "value": "#000000"}, "value": "#ffffff"}}}
   }}
 ]
},
{
 "width": 1488, "height": 151,
 "view": {"stroke": "#ffffff", "strokeDash": [3127, 151]},
 "title": {"text": "RSI(5) 64.4148", "dx": 5},
 "layer": [
  {"data": {"name": "ind"},
   "mark": {"type": "line", "color": "#ffff00", "strokeWidth": 2, "clip": true},
   "encoding": {
     "x": {"field": "i", "type": "quantitative", "scale": {"domain": [0, 372], "nice": false, "zero": false}, "axis": null},
     "y": {"field": "r", "type": "quantitative", "scale": {"domain": [0, 100], "nice": false},
           "axis": {"orient": "right", "title": null, "values": [0, 100], "ticks": false, "labelPadding": 4, "labelFlush": true, "labelFlushOffset": -2}}
   }},
  {"data": {"name": "lines"},
   "transform": [{"filter": "datum.g === 'rsi1' || datum.g === 'rsi2'"}],
   "mark": {"type": "line", "color": "#ff0000", "strokeWidth": 2.5},
   "encoding": {
     "x": {"field": "i", "type": "quantitative", "scale": {"domain": [0, 372], "nice": false, "zero": false}, "axis": null},
     "y": {"field": "v", "type": "quantitative", "scale": {"domain": [0, 100], "nice": false},
           "axis": {"orient": "right", "title": null, "values": [0, 100], "ticks": false, "labelPadding": 4, "labelFlush": true, "labelFlushOffset": -2}},
     "detail": {"field": "g"}
   }}
 ]
},
{
 "width": 1488, "height": 150,
 "view": {"stroke": "#ffffff", "strokeDash": [3126, 150]},
 "title": {"text": "MACD(12,26,9) 6.630 5.669", "dx": 5},
 "layer": [
  {"data": {"name": "ind"},
   "mark": {"type": "bar", "size": 1, "color": "#c0c0c0", "clip": true},
   "encoding": {
     "x": {"field": "i", "type": "quantitative", "scale": {"domain": [0, 372], "nice": false, "zero": false}, "axis": null},
     "y": {"field": "m", "type": "quantitative", "scale": {"domain": [-13.076, 13.981], "nice": false, "zero": false},
           "axis": {"orient": "right", "title": null, "values": [-13.076, 0, 13.981],
                    "labelExpr": "datum.value === 0 ? '0.00' : (datum.value > 0 ? '13.981' : '-13.076')",
                    "tickOpacity": {"condition": {"test": "datum.value === 0", "value": 1}, "value": 0},
                    "labelPadding": 2, "labelFlush": true, "labelFlushOffset": -2}},
     "y2": {"datum": 0}
   }},
  {"data": {"name": "ind"},
   "mark": {"type": "line", "color": "#ff0000", "strokeWidth": 1, "strokeDash": [2, 3], "clip": true},
   "encoding": {
     "x": {"field": "i", "type": "quantitative", "scale": {"domain": [0, 372], "nice": false, "zero": false}, "axis": null},
     "y": {"field": "s", "type": "quantitative", "scale": {"domain": [-13.076, 13.981], "nice": false, "zero": false},
           "axis": {"orient": "right", "title": null, "values": [-13.076, 0, 13.981],
                    "labelExpr": "datum.value === 0 ? '0.00' : (datum.value > 0 ? '13.981' : '-13.076')",
                    "tickOpacity": {"condition": {"test": "datum.value === 0", "value": 1}, "value": 0},
                    "labelPadding": 2, "labelFlush": true, "labelFlushOffset": -2}}
   }},
  {"data": {"name": "lines"},
   "transform": [{"filter": "datum.g === 'macd'"}],
   "mark": {"type": "line", "color": "#ff0000", "strokeWidth": 2.5},
   "encoding": {
     "x": {"field": "i", "type": "quantitative", "scale": {"domain": [0, 372], "nice": false, "zero": false}, "axis": null},
     "y": {"field": "v", "type": "quantitative", "scale": {"domain": [-13.076, 13.981], "nice": false, "zero": false},
           "axis": {"orient": "right", "title": null, "values": [-13.076, 0, 13.981],
                    "labelExpr": "datum.value === 0 ? '0.00' : (datum.value > 0 ? '13.981' : '-13.076')",
                    "tickOpacity": {"condition": {"test": "datum.value === 0", "value": 1}, "value": 0},
                    "labelPadding": 2, "labelFlush": true, "labelFlushOffset": -2}}
   }}
 ]
},
{
 "width": 1488, "height": 148,
 "view": {"stroke": "#ffffff", "strokeDash": [3124, 148]},
 "title": {"text": "OsMA(12,26,9) 0.9613", "dx": 5, "offset": -15},
 "layer": [
  {"data": {"name": "ind"},
   "mark": {"type": "bar", "size": 3, "color": "#c0c0c0", "clip": true},
   "encoding": {
     "x": {"field": "i", "type": "quantitative", "scale": {"domain": [0, 372], "nice": false, "zero": false},
           "axis": {"orient": "bottom", "title": null,
                    "values": [0,16,32,48,64,80,96,112,128,144,160,176,192,208,224,240,256,272,288],
                    "labelExpr": "['16 Oct 2012','24 Oct 08:00','31 Oct 12:00','9 Nov 08:00','21 Nov 08:00','3 Dec 08:00','17 Dec 08:00','27 Dec 08:00','10 Jan 08:00','22 Jan 08:00','1 Feb 08:00','13 Feb 08:00','26 Feb 08:00','8 Mar 08:00','18 Mar 04:00','25 Mar 08:00','1 Apr 12:00','10 Apr 04:00','19 Apr 08:00'][round(datum.value/16)]",
                    "labelAlign": "left", "labelBaseline": "top", "labelOffset": -2, "labelPadding": 4, "tickSize": 3, "labelFontSize": 9,
                    "labelFlush": false, "labelOverlap": false}},
     "y": {"field": "o", "type": "quantitative", "scale": {"domain": [-8.1438, 6.4272], "nice": false, "zero": false},
           "axis": {"orient": "right", "title": null, "values": [-8.1438, 0, 6.4272],
                    "labelExpr": "datum.value === 0 ? '0.00' : (datum.value > 0 ? '6.4272' : '-8.1438')",
                    "tickOpacity": {"condition": {"test": "datum.value === 0", "value": 1}, "value": 0},
                    "labelPadding": 2, "labelFlush": true, "labelFlushOffset": -2}},
     "y2": {"datum": 0}
   }},
  {"data": {"name": "lines"},
   "transform": [{"filter": "datum.g === 'osma'"}],
   "mark": {"type": "line", "color": "#ff0000", "strokeWidth": 2.5},
   "encoding": {
     "x": {"field": "i", "type": "quantitative", "scale": {"domain": [0, 372], "nice": false, "zero": false},
           "axis": {"orient": "bottom", "title": null,
                    "values": [0,16,32,48,64,80,96,112,128,144,160,176,192,208,224,240,256,272,288],
                    "labelExpr": "['16 Oct 2012','24 Oct 08:00','31 Oct 12:00','9 Nov 08:00','21 Nov 08:00','3 Dec 08:00','17 Dec 08:00','27 Dec 08:00','10 Jan 08:00','22 Jan 08:00','1 Feb 08:00','13 Feb 08:00','26 Feb 08:00','8 Mar 08:00','18 Mar 04:00','25 Mar 08:00','1 Apr 12:00','10 Apr 04:00','19 Apr 08:00'][round(datum.value/16)]",
                    "labelAlign": "left", "labelBaseline": "top", "labelOffset": -2, "labelPadding": 4, "tickSize": 3, "labelFontSize": 9,
                    "labelFlush": false, "labelOverlap": false}},
     "y": {"field": "v", "type": "quantitative", "scale": {"domain": [-8.1438, 6.4272], "nice": false, "zero": false},
           "axis": {"orient": "right", "title": null, "values": [-8.1438, 0, 6.4272],
                    "labelExpr": "datum.value === 0 ? '0.00' : (datum.value > 0 ? '6.4272' : '-8.1438')",
                    "tickOpacity": {"condition": {"test": "datum.value === 0", "value": 1}, "value": 0},
                    "labelPadding": 2, "labelFlush": true, "labelFlushOffset": -2}}
   }}
 ]
}
]
}
